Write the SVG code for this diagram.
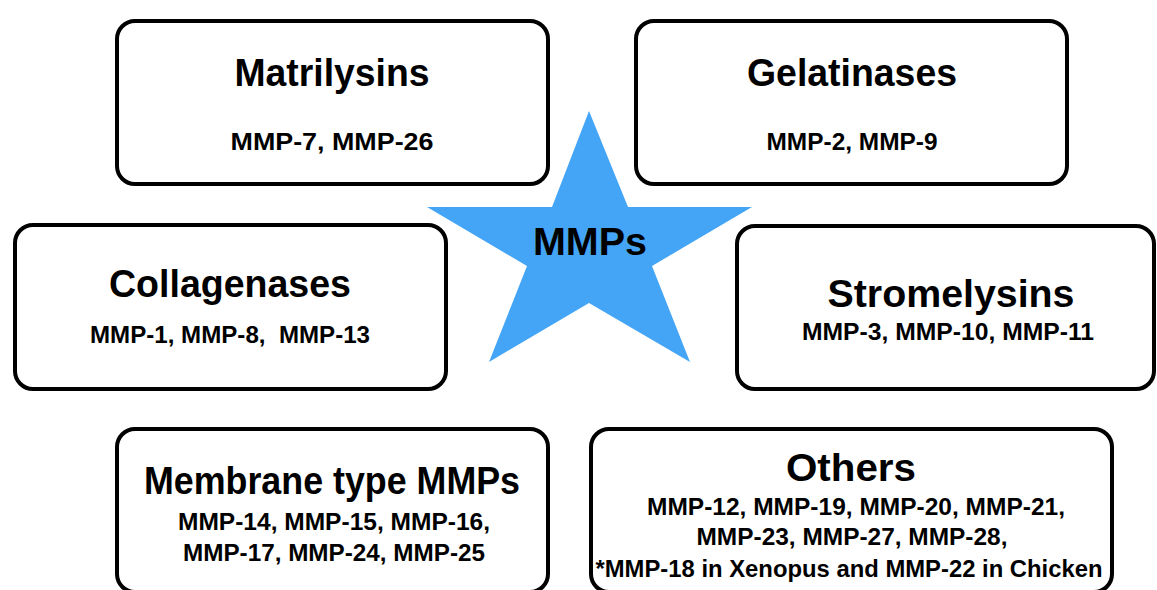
<svg xmlns="http://www.w3.org/2000/svg" width="1157" height="590" viewBox="0 0 1157 590">
<style>
.box{fill:#fff;stroke:#000;stroke-width:4;}
.t{font-family:"Liberation Sans",Arial,Helvetica,sans-serif;font-weight:bold;fill:#000;text-anchor:middle;}
.h{font-size:38px;}
.s{font-size:24px;}
</style>
<rect width="1157" height="590" fill="#fff"/>
<g id="connectors"></g>
<g id="matrilysins">
<rect class="box" x="117" y="21" width="431" height="163" rx="18"/>
<text class="t h" x="332" y="86" textLength="195" lengthAdjust="spacingAndGlyphs">Matrilysins</text>
<text class="t s" x="332" y="150" textLength="203" lengthAdjust="spacingAndGlyphs">MMP-7, MMP-26</text>
</g>
<g id="gelatinases">
<rect class="box" x="636" y="21" width="431" height="163" rx="18"/>
<text class="t h" x="852" y="86" textLength="210" lengthAdjust="spacingAndGlyphs">Gelatinases</text>
<text class="t s" x="852" y="150" textLength="171" lengthAdjust="spacingAndGlyphs">MMP-2, MMP-9</text>
</g>
<g id="collagenases">
<rect class="box" x="15" y="225" width="431" height="164" rx="18"/>
<text class="t h" x="230" y="297" textLength="242" lengthAdjust="spacingAndGlyphs">Collagenases</text>
<text class="t s" x="230" y="343" textLength="280" lengthAdjust="spacingAndGlyphs" style="white-space:pre">MMP-1, MMP-8,  MMP-13</text>
</g>
<g id="stromelysins">
<rect class="box" x="737" y="226" width="417" height="163" rx="18"/>
<text class="t h" x="951" y="307" textLength="247" lengthAdjust="spacingAndGlyphs">Stromelysins</text>
<text class="t s" x="948" y="340" textLength="292" lengthAdjust="spacingAndGlyphs">MMP-3, MMP-10, MMP-11</text>
</g>
<g id="membrane">
<rect class="box" x="117" y="429" width="431" height="163" rx="18"/>
<text class="t h" x="332" y="494" textLength="376" lengthAdjust="spacingAndGlyphs">Membrane type MMPs</text>
<text class="t s" x="334" y="530" textLength="312" lengthAdjust="spacingAndGlyphs">MMP-14, MMP-15, MMP-16,</text>
<text class="t s" x="334" y="561" textLength="302" lengthAdjust="spacingAndGlyphs">MMP-17, MMP-24, MMP-25</text>
</g>
<g id="others">
<rect class="box" x="591" y="429" width="521" height="163" rx="18"/>
<text class="t h" x="851" y="481" textLength="130" lengthAdjust="spacingAndGlyphs">Others</text>
<text class="t s" x="856" y="515" textLength="418" lengthAdjust="spacingAndGlyphs">MMP-12, MMP-19, MMP-20, MMP-21,</text>
<text class="t s" x="852" y="545" textLength="311" lengthAdjust="spacingAndGlyphs">MMP-23, MMP-27, MMP-28,</text>
<text class="t s" x="849" y="577" textLength="507" lengthAdjust="spacingAndGlyphs">*MMP-18 in Xenopus and MMP-22 in Chicken</text>
</g>
<g id="mmps">
<polygon fill="#44a5f6" points="589,111 628,207 752,207 652,266 690,362 589,303 489,362 527,266 427,207 552,207"/>
<text class="t" x="590" y="255" font-size="38" textLength="114" lengthAdjust="spacingAndGlyphs">MMPs</text>
</g>
</svg>
